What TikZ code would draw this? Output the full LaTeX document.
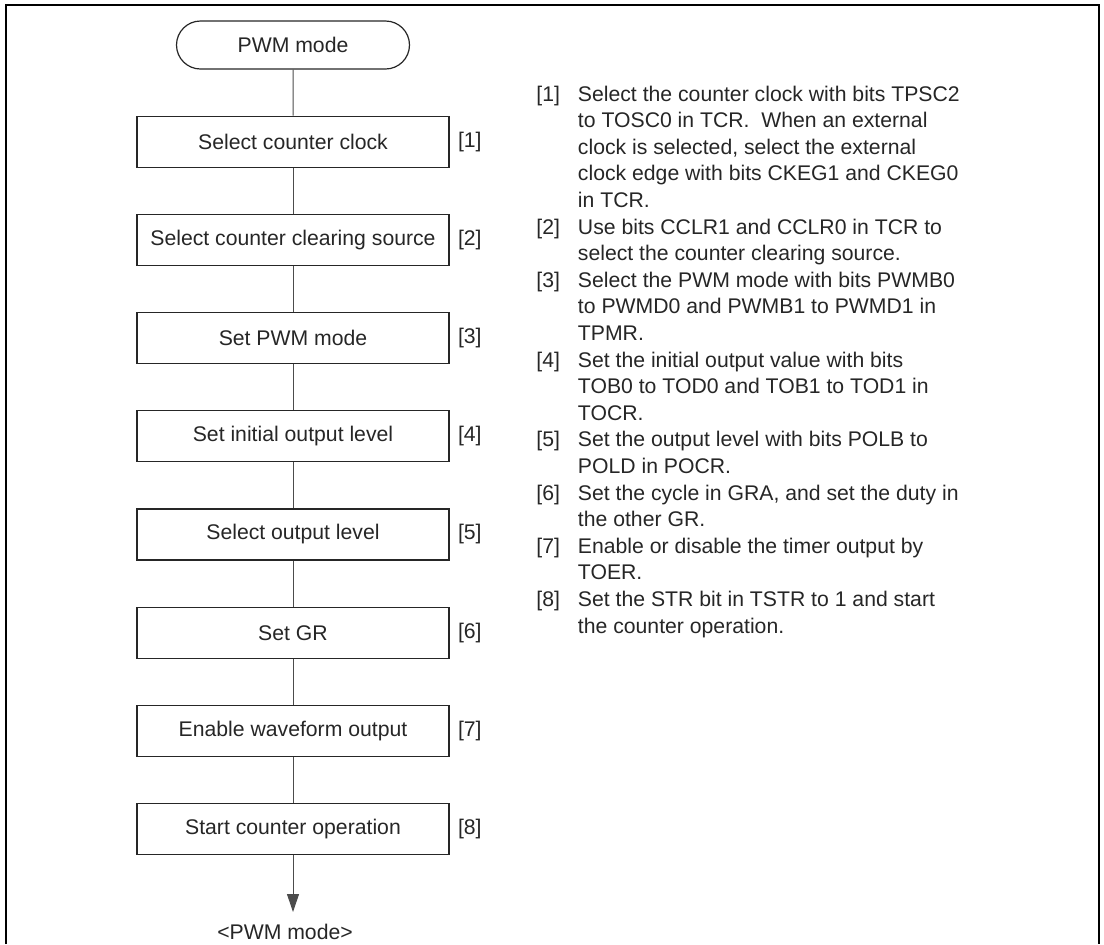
\documentclass[tikz,border=0pt]{standalone}
\usepackage{fontspec}
\setmainfont{Liberation Sans}
\usetikzlibrary{shapes.misc, arrows.meta, positioning}

\begin{document}
\begin{tikzpicture}[
    x=0.5pt, y=-0.5pt,
    node distance=23pt and 4pt,
    every node/.style={font=\fontsize{10.6}{13.3}\selectfont, text=black!85},
    term/.style={rounded rectangle, draw=black!85, line width=0.6pt, minimum width=116.5pt, minimum height=24pt, inner sep=0pt},
    stepbox/.style={rectangle, draw=black!85, line width=0.6pt, minimum width=156pt, minimum height=25.5pt, inner sep=0pt},
    tag/.style={inner sep=0pt},
    link/.style={draw=black!70, line width=0.5pt},
    arrow/.style={link, -{Triangle[length=9pt, width=6pt]}}
]
\useasboundingbox (0,0) rectangle (1104,944);
% --- Outer frame (open at the bottom) ---
\draw[line width=1pt] (5.5,944) -- (5.5,5) -- (1098.5,5) -- (1098.5,944);

% --- Flow : PWM mode -> steps [1]..[8] ---
\node[term] (start) at (293,45) {PWM mode};
\node[stepbox, below=of start] (s1) {Select counter clock};
\node[stepbox, below=of s1] (s2) {Select counter clearing source};
\node[stepbox, below=of s2] (s3) {Set PWM mode};
\node[stepbox, below=of s3] (s4) {Set initial output level};
\node[stepbox, below=of s4] (s5) {Select output level};
\node[stepbox, below=of s5] (s6) {Set GR};
\node[stepbox, below=of s6] (s7) {Enable waveform output};
\node[stepbox, below=of s7] (s8) {Start counter operation};
\node[inner xsep=0pt, inner ysep=6pt, below=28.4pt of s8, xshift=-4pt] (done) {<PWM mode>};

\foreach \a/\b in {start/s1, s1/s2, s2/s3, s3/s4, s4/s5, s5/s6, s6/s7, s7/s8}
    \draw[link] (\a) -- (\b);
\draw[arrow] (s8) -- (s8.south |- done.north);

% --- Step numbers ---
\foreach \i in {1,...,8}
    \node[tag, right=of s\i] (t\i) {[\i]};

% --- Notes ---
\node[anchor=north west, inner sep=0pt] (notes) at (536,82) {%
\begin{tabular}{@{}l@{\hspace{9pt}}l@{}}
{[1]} & Select the counter clock with bits TPSC2\\
    & to TOSC0 in TCR.\ \ When an external\\
    & clock is selected, select the external\\
    & clock edge with bits CKEG1 and CKEG0\\
    & in TCR.\\
{[2]} & Use bits CCLR1 and CCLR0 in TCR to\\
    & select the counter clearing source.\\
{[3]} & Select the PWM mode with bits PWMB0\\
    & to PWMD0 and PWMB1 to PWMD1 in\\
    & TPMR.\\
{[4]} & Set the initial output value with bits\\
    & TOB0 to TOD0 and TOB1 to TOD1 in\\
    & TOCR.\\
{[5]} & Set the output level with bits POLB to\\
    & POLD in POCR.\\
{[6]} & Set the cycle in GRA, and set the duty in\\
    & the other GR.\\
{[7]} & Enable or disable the timer output by\\
    & TOER.\\
{[8]} & Set the STR bit in TSTR to 1 and start\\
    & the counter operation.
\end{tabular}};
\end{tikzpicture}
\end{document}
